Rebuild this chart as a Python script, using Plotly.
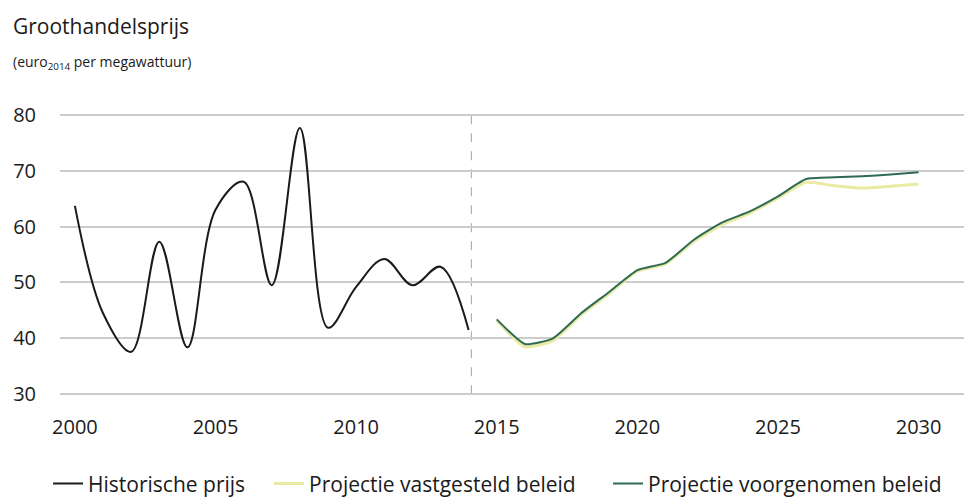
import plotly.graph_objects as go

hist_years = [2000, 2001, 2002, 2003, 2004, 2005, 2006, 2007, 2008, 2009, 2010, 2011, 2012, 2013, 2014]
hist_price = [63.7, 44.5, 37.6, 57.3, 38.4, 63.0, 68.0, 49.5, 77.6, 41.9, 49.2, 54.2, 49.5, 52.8, 41.5]

proj_years = [2015, 2016, 2017, 2018, 2019, 2020, 2021, 2022, 2023, 2024, 2025, 2026, 2027, 2028, 2029, 2030]
vastgesteld = [43.2, 38.5, 39.6, 44.2, 48.0, 52.0, 53.3, 57.3, 60.3, 62.4, 65.1, 67.9, 67.3, 66.9, 67.2, 67.6]
voorgenomen = [43.4, 39.0, 40.0, 44.5, 48.3, 52.2, 53.5, 57.6, 60.7, 62.7, 65.4, 68.5, 68.8, 69.0, 69.3, 69.7]

x_ticks = [2000, 2005, 2010, 2015, 2020, 2025, 2030]
y_ticks = [30, 40, 50, 60, 70, 80]

FONT = "Open Sans"

fig = go.Figure()
fig.add_trace(go.Scatter(x=hist_years, y=hist_price, mode="lines", name="Historische prijs",
                         legend="legend",
                         line=dict(color="#1a1a1a", width=2, shape="spline", smoothing=1.0)))
fig.add_trace(go.Scatter(x=proj_years, y=vastgesteld, mode="lines", name="Projectie vastgesteld beleid",
                         legend="legend2",
                         line=dict(color="#eaeaa4", width=3, shape="spline", smoothing=0.5)))
fig.add_trace(go.Scatter(x=proj_years, y=voorgenomen, mode="lines", name="Projectie voorgenomen beleid",
                         legend="legend3",
                         line=dict(color="#2e6b52", width=2, shape="spline", smoothing=0.5)))

fig.add_shape(type="line", x0=2014.1, x1=2014.1, y0=30, y1=80, xref="x", yref="y",
              line=dict(color="#b0b0b0", width=1.2, dash="dash"), layer="below")

fig.add_annotation(text="Groothandelsprijs", x=-0.054, y=1.307, xref="paper", yref="paper",
                   xanchor="left", yanchor="middle", showarrow=False,
                   font=dict(family=FONT, size=21, color="#1a1a1a"))
fig.add_annotation(text="(euro<sub>2014</sub> per megawattuur)", x=-0.054, y=1.18, xref="paper", yref="paper",
                   xanchor="left", yanchor="middle", showarrow=False,
                   font=dict(family=FONT, size=14, color="#1a1a1a"))

legend_common = dict(orientation="h", yref="container", y=0.031, yanchor="middle",
                     xref="paper", xanchor="left",
                     font=dict(family=FONT, size=21, color="#1a1a1a"), itemwidth=30,
                     bgcolor="rgba(0,0,0,0)")

fig.update_layout(
    width=964, height=491,
    margin=dict(l=52, r=0, t=105, b=103, autoexpand=False),
    paper_bgcolor="white", plot_bgcolor="white",
    font=dict(family=FONT, size=19, color="#1a1a1a"),
    xaxis=dict(range=[1999.47, 2031.9], tickvals=x_ticks, showgrid=False, zeroline=False,
               showline=False, ticks="", tickfont=dict(size=20, color="#1a1a1a"), ticklabelstandoff=17,
               automargin=False),
    yaxis=dict(range=[29.7, 80.3], tickvals=y_ticks, showgrid=True, gridcolor="#cccccc", gridwidth=2,
               zeroline=False, showline=False, ticks="", tickfont=dict(size=20, color="#1a1a1a"),
               ticklabelstandoff=23, automargin=False),
    legend=dict(legend_common, x=-0.0131),
    legend2=dict(legend_common, x=0.2292),
    legend3=dict(legend_common, x=0.6009),
    showlegend=True,
)

fig.write_html("out.html")
